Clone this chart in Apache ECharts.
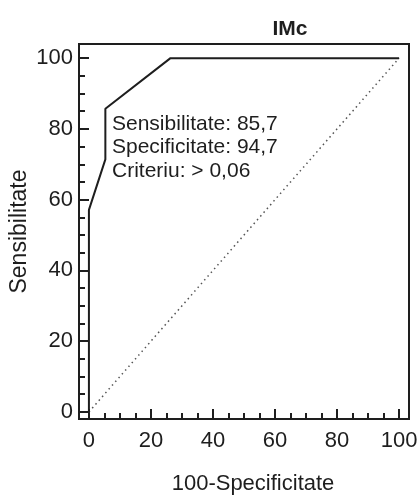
<!DOCTYPE html>
<html>
<head>
<meta charset="utf-8">
<script src="https://cdn.jsdelivr.net/npm/echarts@6/dist/echarts.min.js"></script>
<style>
html, body { margin: 0; padding: 0; background: #fff; }
#chart { width: 417px; height: 495px; }
</style>
</head>
<body>
<div id="chart"></div>
<script>
// curba ROC pentru IMc
var rocX = [0, 0, 5.3, 5.3, 26.3, 100];
var rocY = [0, 57.1, 71.4, 85.7, 100, 100];
// linia de referinta
var refX = [0, 100];
var refY = [0, 100];

var majorTicks = [0, 20, 40, 60, 80, 100];
var minorTicks = [5, 10, 15, 25, 30, 35, 45, 50, 55, 65, 70, 75, 85, 90, 95];

var infoLines = ['Sensibilitate: 85,7', 'Specificitate: 94,7', 'Criteriu: > 0,06'];

var font = 'Liberation Sans, Arial, sans-serif';
var ink = '#1e1e1e';

function pairs(xs, ys) {
    return xs.map(function (x, i) { return [x, ys[i]]; });
}

// axa cu etichete si gradatii mari
function mainAxis(min, max, pos, extra) {
    var ax = {
        type: 'value',
        min: min,
        max: max,
        position: pos,
        offset: 0,
        nameMoveOverlap: false,
        splitLine: {show: false},
        axisLine: {show: false, onZero: false},
        axisTick: {show: true, inside: true, length: 10, customValues: majorTicks,
            lineStyle: {color: ink, width: 2}},
        axisLabel: {customValues: majorTicks, color: ink, fontSize: 22, fontFamily: font}
    };
    for (var k in extra) ax[k] = extra[k];
    return ax;
}

// axa suprapusa doar pentru gradatiile mici
function minorAxis(min, max, pos) {
    return {
        type: 'value',
        min: min,
        max: max,
        position: pos,
        offset: 0,
        splitLine: {show: false},
        axisLine: {show: false, onZero: false},
        axisTick: {show: true, inside: true, length: 6, customValues: minorTicks,
            lineStyle: {color: ink, width: 2}},
        axisLabel: {show: false}
    };
}

var myChart = echarts.init(document.getElementById('chart'), null, {renderer: 'canvas'});
myChart.setOption({
    animation: false,
    backgroundColor: '#fff',
    title: {
        text: 'IMc',
        left: 285,
        top: 14,
        textAlign: 'center',
        textStyle: {fontSize: 21, fontWeight: 'bold', color: ink, fontFamily: font}
    },
    grid: {
        left: 79, right: 8, top: 44, bottom: 76,
        containLabel: false,
        outerBoundsMode: 'none',
        show: true,
        borderColor: ink,
        borderWidth: 2,
        backgroundColor: 'transparent'
    },
    xAxis: [
        mainAxis(-3.2, 103.2, 'bottom', {
            name: '100-Specificitate',
            nameLocation: 'middle',
            nameGap: 54,
            nameTextStyle: {fontSize: 22, color: ink, fontFamily: font, padding: [0, 0, 0, 18]},
            axisLabel: {customValues: majorTicks, color: ink, fontSize: 22, fontFamily: font, margin: 11}
        }),
        minorAxis(-3.2, 103.2, 'bottom')
    ],
    yAxis: [
        mainAxis(-2, 104, 'left', {
            name: 'Sensibilitate',
            nameLocation: 'middle',
            nameGap: 48,
            nameTextStyle: {fontSize: 23, color: ink, fontFamily: font},
            axisLabel: {customValues: majorTicks, color: ink, fontSize: 22, fontFamily: font, margin: 6}
        }),
        minorAxis(-2, 104, 'left')
    ],
    series: [
        {
            type: 'line',
            data: pairs(refX, refY),
            symbol: 'none',
            silent: true,
            lineStyle: {color: '#555', width: 1.5, type: [1.5, 3.5]}
        },
        {
            type: 'line',
            data: pairs(rocX, rocY),
            symbol: 'none',
            silent: true,
            lineStyle: {color: ink, width: 2}
        }
    ],
    graphic: [
        {
            type: 'text',
            left: 112,
            top: 112,
            style: {
                text: infoLines.join('\n'),
                fontSize: 21,
                lineHeight: 23.5,
                fontFamily: font,
                fill: ink
            }
        }
    ]
});
</script>
</body>
</html>
